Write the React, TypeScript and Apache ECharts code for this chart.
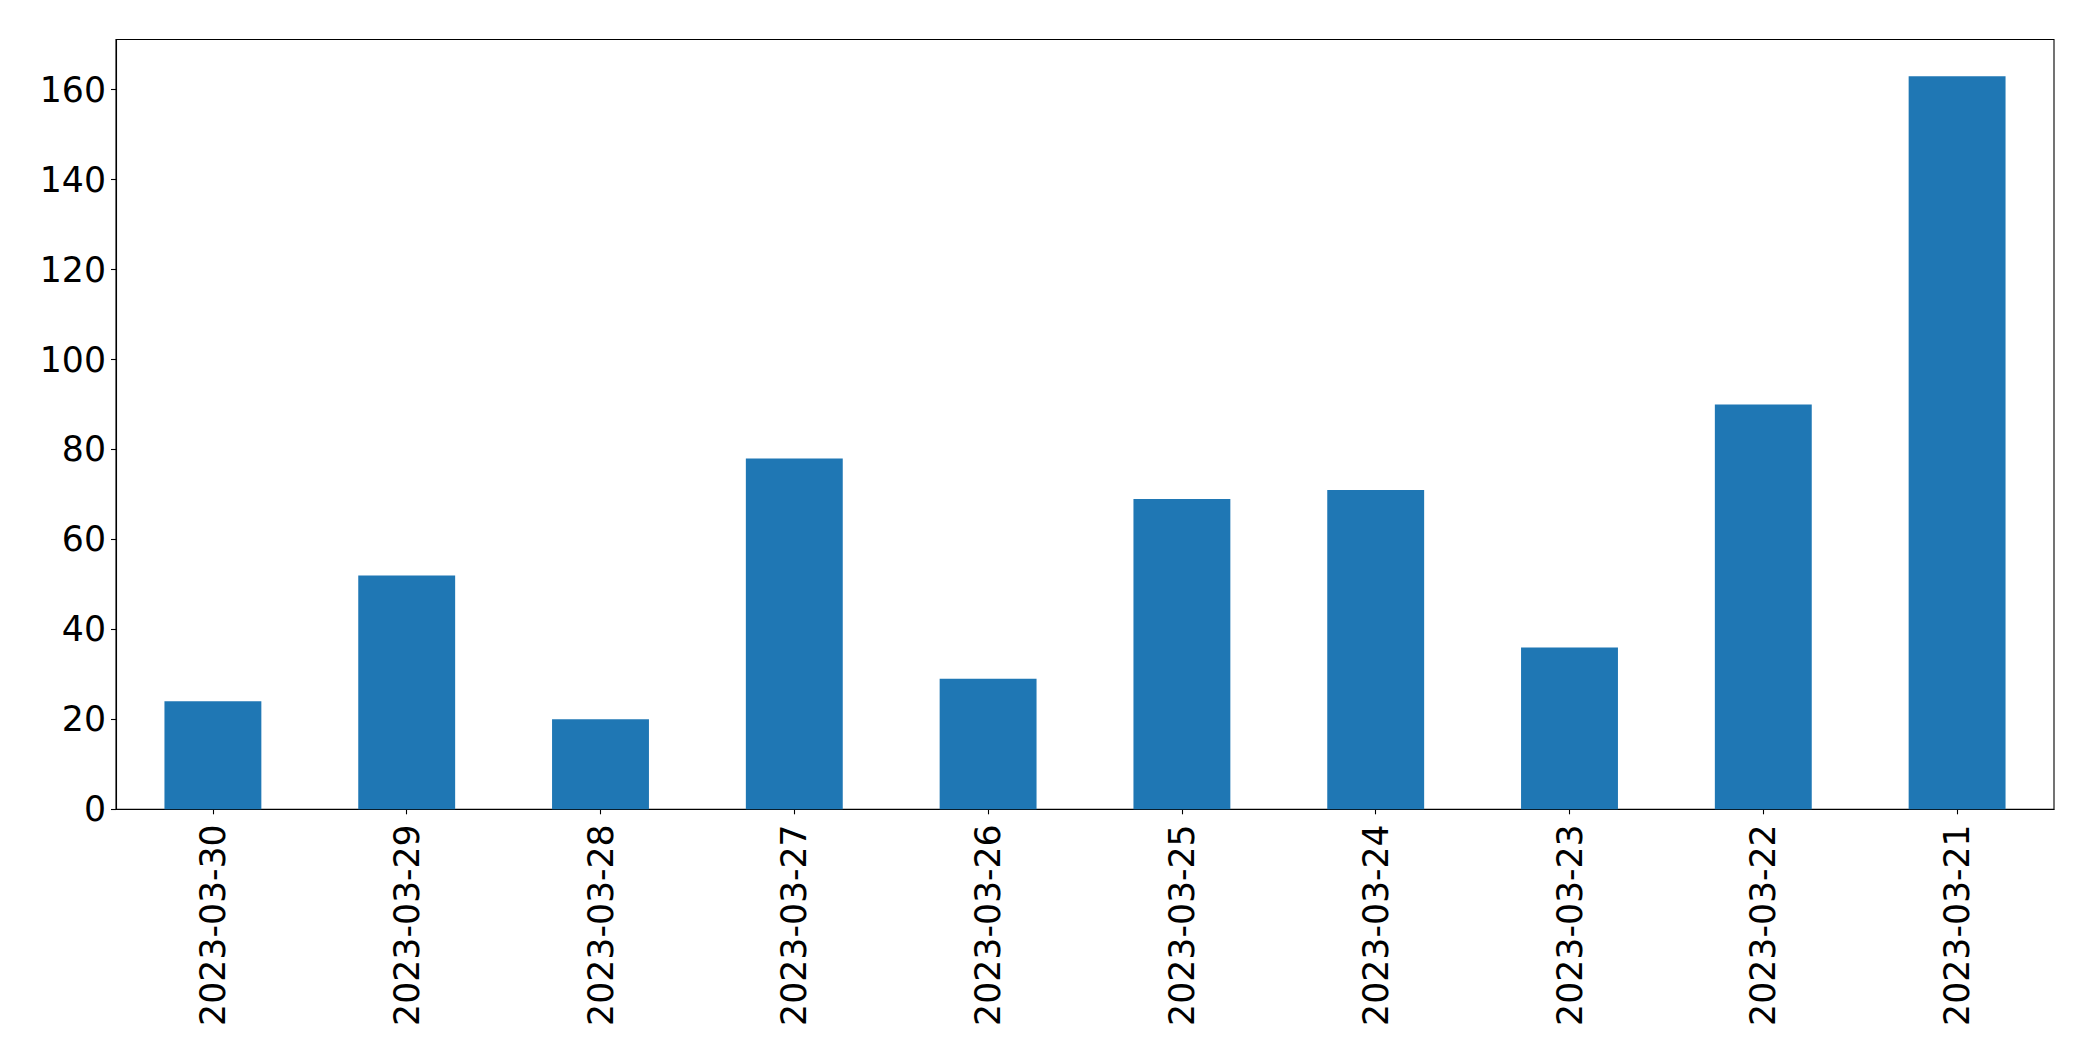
import React, { useEffect, useRef } from "react";
import * as echarts from "echarts";

const categories = [
  "2023-03-30",
  "2023-03-29",
  "2023-03-28",
  "2023-03-27",
  "2023-03-26",
  "2023-03-25",
  "2023-03-24",
  "2023-03-23",
  "2023-03-22",
  "2023-03-21",
];
const values = [24, 52, 20, 78, 29, 69, 71, 36, 90, 163];
const yTicks = [0, 20, 40, 60, 80, 100, 120, 140, 160];

export default function App() {
  const ref = useRef<HTMLDivElement>(null);
  useEffect(() => {
    document.body.style.margin = "0";
    const chart = echarts.init(ref.current!, null, { renderer: "svg" });
    const maxV = Math.max(...values) * 1.05;
    chart.setOption({
      animation: false,
      backgroundColor: "#ffffff",
      grid: {
        left: 116,
        top: 39.5,
        right: 39,
        bottom: 251.7,
        show: true,
        borderColor: "#000000",
        borderWidth: 1.1,
        backgroundColor: "transparent",
      },
      xAxis: {
        type: "category",
        data: categories,
        boundaryGap: true,
        axisLine: { show: true, lineStyle: { color: "#000000", width: 1.1 } },
        axisTick: {
          show: true,
          alignWithLabel: true,
          length: 5,
          lineStyle: { color: "#000000", width: 1.1 },
        },
        axisLabel: {
          rotate: 90,
          margin: 15,
          color: "#000000",
          fontFamily: "DejaVu Sans",
          fontSize: 34.7,
          interval: 0,
        },
        splitLine: { show: false },
      },
      yAxis: {
        type: "value",
        min: 0,
        max: maxV,
        interval: 20,
        axisLine: { show: true, lineStyle: { color: "#000000", width: 1.1 } },
        axisTick: {
          show: true,
          length: 5,
          customValues: yTicks,
          lineStyle: { color: "#000000", width: 1.1 },
        },
        axisLabel: {
          margin: 10,
          color: "#000000",
          fontFamily: "DejaVu Sans",
          fontSize: 34.7,
          customValues: yTicks,
        },
        splitLine: { show: false },
      },
      series: [
        {
          type: "bar",
          data: values,
          barWidth: "50%",
          itemStyle: { color: "#1f77b4" },
        },
      ],
    });
    return () => chart.dispose();
  }, []);
  return <div ref={ref} style={{ width: 2093, height: 1061 }} />;
}
